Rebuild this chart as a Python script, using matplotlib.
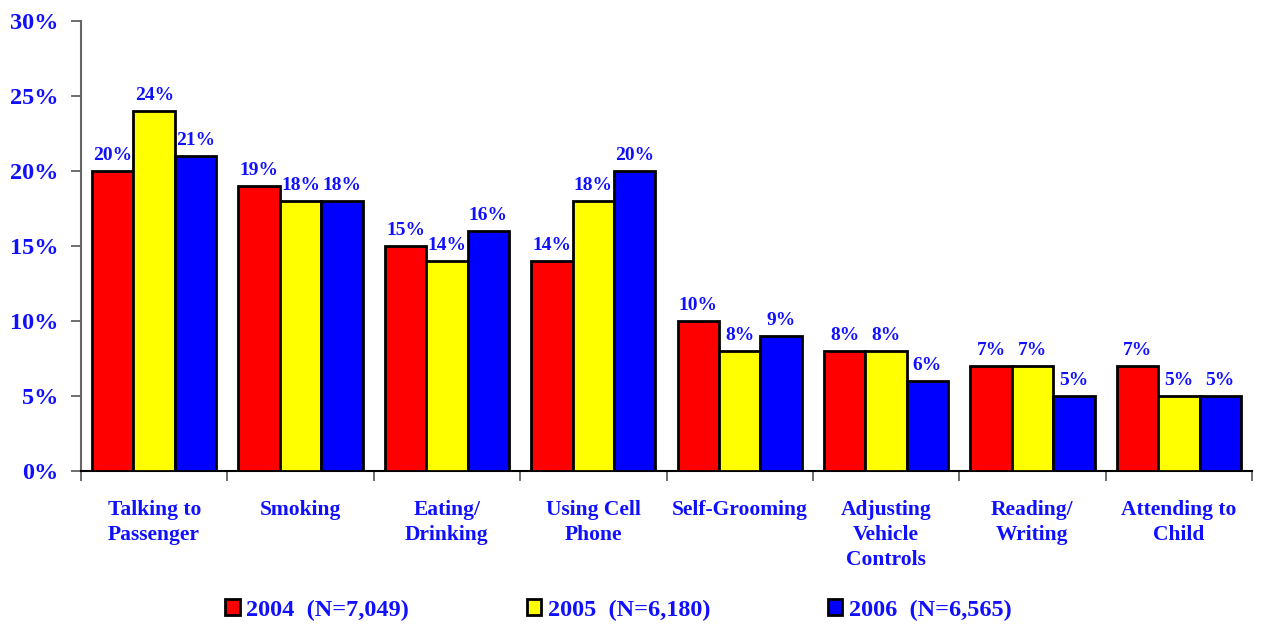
import matplotlib.pyplot as plt
import numpy as np
from matplotlib.patches import Patch

categories = ["Talking to\nPassenger", "Smoking", "Eating/\nDrinking", "Using Cell\nPhone",
              "Self-Grooming", "Adjusting\nVehicle\nControls", "Reading/\nWriting", "Attending to\nChild"]
series_labels = ["2004  (N=7,049)", "2005  (N=6,180)", "2006  (N=6,565)"]
values_2004 = [20, 19, 15, 14, 10, 8, 7, 7]
values_2005 = [24, 18, 14, 18, 8, 8, 7, 5]
values_2006 = [21, 18, 16, 20, 9, 6, 5, 5]
y_ticks = [0, 5, 10, 15, 20, 25, 30]

colors = ["#ff0000", "#ffff00", "#0000ff"]
text_blue = "#1010ff"

plt.rcParams["font.family"] = ["Liberation Serif", "DejaVu Serif"]
plt.rcParams["font.weight"] = "bold"

fig = plt.figure(figsize=(12.62, 6.25), dpi=100)
ax = fig.add_axes([81 / 1262, 1 - 471 / 625, (1252 - 81) / 1262, (471 - 21) / 625])

x = np.arange(len(categories))
width = 0.283
for i, vals in enumerate([values_2004, values_2005, values_2006]):
    pos = x + (i - 1) * width
    bars = ax.bar(pos, vals, width, color=colors[i], edgecolor="black", linewidth=2, zorder=3)
    for b, v in zip(bars, vals):
        ax.annotate(f"{v}%", (b.get_x() + b.get_width() / 2, v), xytext=(0, 5),
                    textcoords="offset points", ha="center", va="bottom",
                    fontsize=14, fontweight="bold", color=text_blue)

ax.set_xlim(-0.5, len(categories) - 0.5)
ax.set_ylim(0, 30)
ax.set_yticks(y_ticks)
ax.set_yticklabels([f"{t}%" for t in y_ticks], fontsize=17.5, fontweight="bold", color=text_blue)
ax.tick_params(axis="y", direction="out", length=7, width=1.2, color="#555555", pad=9)

# category boundaries get tick marks, labels sit at centres
ax.set_xticks(np.arange(-0.5, len(categories), 1.0))
ax.set_xticklabels([])
ax.tick_params(axis="x", direction="out", length=7, width=1.2, color="#555555")
for xi, cat in zip(x, categories):
    ax.text(xi, -1.9, cat, ha="center", va="top", fontsize=15.5, fontweight="bold",
            color=text_blue, linespacing=1.35)

ax.spines["top"].set_visible(False)
ax.spines["right"].set_visible(False)
ax.spines["left"].set_color("#666666")
ax.spines["left"].set_linewidth(1.5)
ax.spines["bottom"].set_color("black")
ax.spines["bottom"].set_linewidth(1.5)

handles = [Patch(facecolor=c, edgecolor="black", linewidth=2) for c in colors]
fig.legend(handles, series_labels, loc="center", bbox_to_anchor=(0.490, 1 - 610 / 625), ncol=3,
           frameon=False, handlelength=0.6, handleheight=0.6, handletextpad=0.25,
           columnspacing=4.85, prop={"size": 17.5, "weight": "bold"}, labelcolor=text_blue)

fig.savefig("out.png", dpi=100)
